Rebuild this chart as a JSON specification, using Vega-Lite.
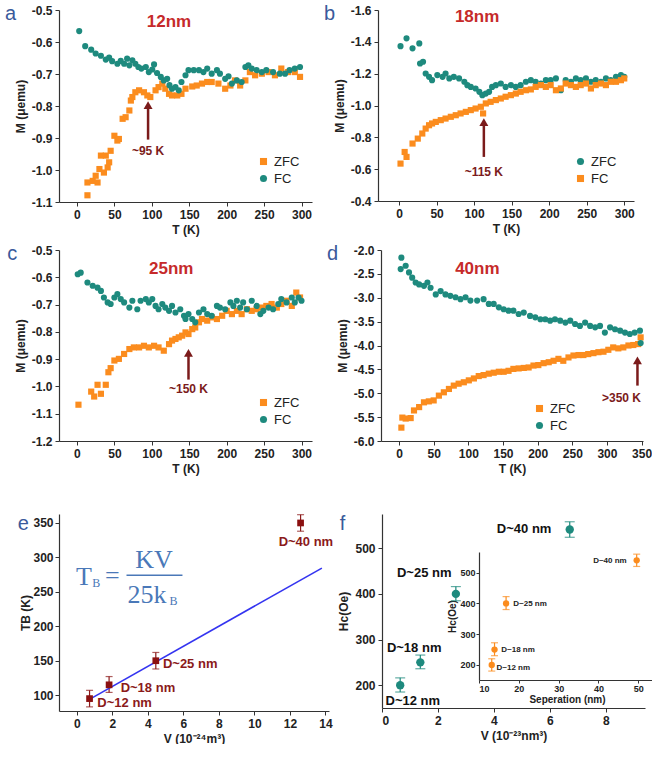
{
"$schema": "https://vega.github.io/schema/vega-lite/v6.json",
"background": "white",
"padding": {"left": 5, "top": 4, "right": 0, "bottom": 0},
"config": {
 "font": "Liberation Sans",
 "view": {"stroke": null},
 "axis": {"grid": false, "labelOverlap": false, "tickCount": 30, "domainColor": "#333", "domainWidth": 1.2, "tickColor": "#333", "tickSize": 4, "labelFont": "Liberation Sans", "labelFontSize": 12, "labelFontWeight": "bold", "labelColor": "#222", "titleFont": "Liberation Sans", "titleFontSize": 12, "titleFontWeight": "bold", "titleColor": "#222", "labelPadding": 3, "titlePadding": 4},
 "legend": {"orient": "none", "labelFontSize": 13, "labelFont": "Liberation Sans", "labelColor": "#222", "symbolSize": 50, "rowPadding": 3},
 "title": {"orient": "left", "anchor": "end", "angle": 0, "baseline": "top", "fontSize": 20, "fontWeight": "normal", "color": "#3a5a9b", "offset": -13, "font": "Liberation Sans"}
},
"datasets": {
 "a": [
  {"T":14,"M":-1.079,"s":"ZFC"},{"T":14,"M":-1.039,"s":"ZFC"},{"T":21,"M":-1.034,"s":"ZFC"},{"T":25,"M":-1.018,"s":"ZFC"},{"T":27.5,"M":-1.039,"s":"ZFC"},{"T":30,"M":-0.997,"s":"ZFC"},{"T":32,"M":-0.955,"s":"ZFC"},{"T":36,"M":-1.008,"s":"ZFC"},{"T":38.5,"M":-0.955,"s":"ZFC"},{"T":41,"M":-0.992,"s":"ZFC"},{"T":43,"M":-0.976,"s":"ZFC"},{"T":45,"M":-0.94,"s":"ZFC"},{"T":50,"M":-0.893,"s":"ZFC"},{"T":54,"M":-0.908,"s":"ZFC"},{"T":56,"M":-0.903,"s":"ZFC"},{"T":61,"M":-0.84,"s":"ZFC"},{"T":65,"M":-0.835,"s":"ZFC"},{"T":70,"M":-0.814,"s":"ZFC"},{"T":72,"M":-0.783,"s":"ZFC"},{"T":74,"M":-0.772,"s":"ZFC"},{"T":78,"M":-0.757,"s":"ZFC"},{"T":83,"M":-0.751,"s":"ZFC"},{"T":89.5,"M":-0.757,"s":"ZFC"},{"T":94,"M":-0.767,"s":"ZFC"},{"T":98,"M":-0.772,"s":"ZFC"},{"T":105,"M":-0.751,"s":"ZFC"},{"T":109,"M":-0.741,"s":"ZFC"},{"T":114,"M":-0.73,"s":"ZFC"},{"T":118,"M":-0.746,"s":"ZFC"},{"T":123,"M":-0.762,"s":"ZFC"},{"T":127,"M":-0.767,"s":"ZFC"},{"T":134,"M":-0.767,"s":"ZFC"},{"T":139.6,"M":-0.762,"s":"ZFC"},{"T":145,"M":-0.746,"s":"ZFC"},{"T":154,"M":-0.739,"s":"ZFC"},{"T":160,"M":-0.736,"s":"ZFC"},{"T":167,"M":-0.73,"s":"ZFC"},{"T":174,"M":-0.725,"s":"ZFC"},{"T":180,"M":-0.725,"s":"ZFC"},{"T":189,"M":-0.73,"s":"ZFC"},{"T":198,"M":-0.746,"s":"ZFC"},{"T":205,"M":-0.736,"s":"ZFC"},{"T":211,"M":-0.72,"s":"ZFC"},{"T":218,"M":-0.736,"s":"ZFC"},{"T":225,"M":-0.72,"s":"ZFC"},{"T":231,"M":-0.694,"s":"ZFC"},{"T":238,"M":-0.704,"s":"ZFC"},{"T":247,"M":-0.699,"s":"ZFC"},{"T":256,"M":-0.694,"s":"ZFC"},{"T":264.5,"M":-0.704,"s":"ZFC"},{"T":273,"M":-0.683,"s":"ZFC"},{"T":282,"M":-0.694,"s":"ZFC"},{"T":291,"M":-0.694,"s":"ZFC"},{"T":298,"M":-0.709,"s":"ZFC"},
  {"T":3,"M":-0.566,"s":"FC"},{"T":11,"M":-0.613,"s":"FC"},{"T":19,"M":-0.624,"s":"FC"},{"T":25,"M":-0.636,"s":"FC"},{"T":32,"M":-0.643,"s":"FC"},{"T":38.5,"M":-0.655,"s":"FC"},{"T":43,"M":-0.649,"s":"FC"},{"T":47,"M":-0.66,"s":"FC"},{"T":54,"M":-0.668,"s":"FC"},{"T":58.5,"M":-0.659,"s":"FC"},{"T":63,"M":-0.668,"s":"FC"},{"T":67,"M":-0.652,"s":"FC"},{"T":70,"M":-0.673,"s":"FC"},{"T":74,"M":-0.657,"s":"FC"},{"T":78,"M":-0.668,"s":"FC"},{"T":82,"M":-0.678,"s":"FC"},{"T":86,"M":-0.683,"s":"FC"},{"T":92,"M":-0.678,"s":"FC"},{"T":96,"M":-0.694,"s":"FC"},{"T":100.6,"M":-0.686,"s":"FC"},{"T":103,"M":-0.67,"s":"FC"},{"T":107,"M":-0.697,"s":"FC"},{"T":112,"M":-0.709,"s":"FC"},{"T":116,"M":-0.72,"s":"FC"},{"T":120.5,"M":-0.715,"s":"FC"},{"T":123.6,"M":-0.735,"s":"FC"},{"T":127,"M":-0.746,"s":"FC"},{"T":131.6,"M":-0.741,"s":"FC"},{"T":136,"M":-0.751,"s":"FC"},{"T":139.6,"M":-0.725,"s":"FC"},{"T":145,"M":-0.704,"s":"FC"},{"T":149,"M":-0.688,"s":"FC"},{"T":156,"M":-0.688,"s":"FC"},{"T":163,"M":-0.688,"s":"FC"},{"T":169,"M":-0.694,"s":"FC"},{"T":174,"M":-0.683,"s":"FC"},{"T":180,"M":-0.699,"s":"FC"},{"T":187,"M":-0.688,"s":"FC"},{"T":191,"M":-0.699,"s":"FC"},{"T":198,"M":-0.715,"s":"FC"},{"T":202.5,"M":-0.707,"s":"FC"},{"T":207,"M":-0.73,"s":"FC"},{"T":213.6,"M":-0.72,"s":"FC"},{"T":220,"M":-0.725,"s":"FC"},{"T":225,"M":-0.678,"s":"FC"},{"T":229,"M":-0.673,"s":"FC"},{"T":233.5,"M":-0.683,"s":"FC"},{"T":240,"M":-0.688,"s":"FC"},{"T":247,"M":-0.694,"s":"FC"},{"T":253,"M":-0.688,"s":"FC"},{"T":262,"M":-0.694,"s":"FC"},{"T":271,"M":-0.699,"s":"FC"},{"T":278,"M":-0.699,"s":"FC"},{"T":284,"M":-0.688,"s":"FC"},{"T":291,"M":-0.683,"s":"FC"},{"T":298,"M":-0.678,"s":"FC"}
 ],
 "b": [
  {"T":2,"M":-1.373,"s":"ZFC"},{"T":10,"M":-1.422,"s":"ZFC"},{"T":18,"M":-1.359,"s":"ZFC"},{"T":27,"M":-1.39,"s":"ZFC"},{"T":28,"M":-1.264,"s":"ZFC"},{"T":32,"M":-1.275,"s":"ZFC"},{"T":35.5,"M":-1.201,"s":"ZFC"},{"T":40,"M":-1.18,"s":"ZFC"},{"T":44,"M":-1.159,"s":"ZFC"},{"T":51,"M":-1.191,"s":"ZFC"},{"T":58,"M":-1.18,"s":"ZFC"},{"T":62,"M":-1.201,"s":"ZFC"},{"T":67,"M":-1.17,"s":"ZFC"},{"T":73,"M":-1.18,"s":"ZFC"},{"T":80,"M":-1.17,"s":"ZFC"},{"T":87,"M":-1.149,"s":"ZFC"},{"T":91,"M":-1.128,"s":"ZFC"},{"T":95.6,"M":-1.117,"s":"ZFC"},{"T":102,"M":-1.107,"s":"ZFC"},{"T":107,"M":-1.086,"s":"ZFC"},{"T":111,"M":-1.065,"s":"ZFC"},{"T":115.6,"M":-1.075,"s":"ZFC"},{"T":120,"M":-1.086,"s":"ZFC"},{"T":124,"M":-1.117,"s":"ZFC"},{"T":129,"M":-1.128,"s":"ZFC"},{"T":135.6,"M":-1.138,"s":"ZFC"},{"T":142,"M":-1.117,"s":"ZFC"},{"T":149,"M":-1.128,"s":"ZFC"},{"T":155.6,"M":-1.117,"s":"ZFC"},{"T":162,"M":-1.128,"s":"ZFC"},{"T":169,"M":-1.149,"s":"ZFC"},{"T":175.6,"M":-1.159,"s":"ZFC"},{"T":182,"M":-1.149,"s":"ZFC"},{"T":189,"M":-1.138,"s":"ZFC"},{"T":195.6,"M":-1.159,"s":"ZFC"},{"T":202,"M":-1.159,"s":"ZFC"},{"T":209,"M":-1.17,"s":"ZFC"},{"T":215.6,"M":-1.096,"s":"ZFC"},{"T":222,"M":-1.159,"s":"ZFC"},{"T":229,"M":-1.149,"s":"ZFC"},{"T":235.6,"M":-1.17,"s":"ZFC"},{"T":242,"M":-1.159,"s":"ZFC"},{"T":249,"M":-1.17,"s":"ZFC"},{"T":255.6,"M":-1.149,"s":"ZFC"},{"T":262,"M":-1.159,"s":"ZFC"},{"T":269,"M":-1.149,"s":"ZFC"},{"T":275.6,"M":-1.17,"s":"ZFC"},{"T":282,"M":-1.159,"s":"ZFC"},{"T":289,"M":-1.18,"s":"ZFC"},{"T":295.6,"M":-1.191,"s":"ZFC"},{"T":300,"M":-1.18,"s":"ZFC"},
  {"T":2,"M":-0.635,"s":"FC"},{"T":7.5,"M":-0.708,"s":"FC"},{"T":10,"M":-0.677,"s":"FC"},{"T":18,"M":-0.761,"s":"FC"},{"T":25,"M":-0.792,"s":"FC"},{"T":31,"M":-0.824,"s":"FC"},{"T":35.5,"M":-0.855,"s":"FC"},{"T":40,"M":-0.876,"s":"FC"},{"T":44,"M":-0.887,"s":"FC"},{"T":49,"M":-0.897,"s":"FC"},{"T":55.6,"M":-0.908,"s":"FC"},{"T":62,"M":-0.918,"s":"FC"},{"T":69,"M":-0.929,"s":"FC"},{"T":75.6,"M":-0.939,"s":"FC"},{"T":82,"M":-0.95,"s":"FC"},{"T":89,"M":-0.96,"s":"FC"},{"T":95.6,"M":-0.971,"s":"FC"},{"T":102,"M":-0.981,"s":"FC"},{"T":109,"M":-0.992,"s":"FC"},{"T":112,"M":-0.95,"s":"FC"},{"T":115.6,"M":-1.013,"s":"FC"},{"T":122,"M":-1.023,"s":"FC"},{"T":129,"M":-1.034,"s":"FC"},{"T":135.6,"M":-1.044,"s":"FC"},{"T":142,"M":-1.055,"s":"FC"},{"T":149,"M":-1.065,"s":"FC"},{"T":155.6,"M":-1.075,"s":"FC"},{"T":162,"M":-1.086,"s":"FC"},{"T":169,"M":-1.096,"s":"FC"},{"T":175.6,"M":-1.101,"s":"FC"},{"T":182,"M":-1.117,"s":"FC"},{"T":189,"M":-1.128,"s":"FC"},{"T":195.6,"M":-1.117,"s":"FC"},{"T":202,"M":-1.128,"s":"FC"},{"T":209,"M":-1.096,"s":"FC"},{"T":215.6,"M":-1.107,"s":"FC"},{"T":222,"M":-1.138,"s":"FC"},{"T":229,"M":-1.128,"s":"FC"},{"T":235.6,"M":-1.117,"s":"FC"},{"T":242,"M":-1.128,"s":"FC"},{"T":249,"M":-1.138,"s":"FC"},{"T":255.6,"M":-1.107,"s":"FC"},{"T":262,"M":-1.128,"s":"FC"},{"T":269,"M":-1.138,"s":"FC"},{"T":275.6,"M":-1.128,"s":"FC"},{"T":282,"M":-1.149,"s":"FC"},{"T":289,"M":-1.149,"s":"FC"},{"T":295.6,"M":-1.159,"s":"FC"},{"T":300,"M":-1.17,"s":"FC"}
 ],
 "c": [
  {"T":2,"M":-1.067,"s":"ZFC"},{"T":19,"M":-1.019,"s":"ZFC"},{"T":23,"M":-1.037,"s":"ZFC"},{"T":27.5,"M":-0.994,"s":"ZFC"},{"T":32,"M":-1.027,"s":"ZFC"},{"T":38.5,"M":-0.994,"s":"ZFC"},{"T":42,"M":-0.948,"s":"ZFC"},{"T":45,"M":-0.933,"s":"ZFC"},{"T":50,"M":-0.905,"s":"ZFC"},{"T":56,"M":-0.899,"s":"ZFC"},{"T":63,"M":-0.881,"s":"ZFC"},{"T":70,"M":-0.863,"s":"ZFC"},{"T":76,"M":-0.857,"s":"ZFC"},{"T":83,"M":-0.857,"s":"ZFC"},{"T":89.5,"M":-0.851,"s":"ZFC"},{"T":96,"M":-0.857,"s":"ZFC"},{"T":103,"M":-0.851,"s":"ZFC"},{"T":109,"M":-0.857,"s":"ZFC"},{"T":116,"M":-0.869,"s":"ZFC"},{"T":123,"M":-0.845,"s":"ZFC"},{"T":127,"M":-0.832,"s":"ZFC"},{"T":131.6,"M":-0.826,"s":"ZFC"},{"T":136,"M":-0.82,"s":"ZFC"},{"T":140.5,"M":-0.814,"s":"ZFC"},{"T":145,"M":-0.802,"s":"ZFC"},{"T":149,"M":-0.808,"s":"ZFC"},{"T":154,"M":-0.79,"s":"ZFC"},{"T":158,"M":-0.784,"s":"ZFC"},{"T":163,"M":-0.765,"s":"ZFC"},{"T":167,"M":-0.753,"s":"ZFC"},{"T":174,"M":-0.759,"s":"ZFC"},{"T":180,"M":-0.747,"s":"ZFC"},{"T":187,"M":-0.753,"s":"ZFC"},{"T":194,"M":-0.741,"s":"ZFC"},{"T":200,"M":-0.723,"s":"ZFC"},{"T":207,"M":-0.735,"s":"ZFC"},{"T":213.6,"M":-0.723,"s":"ZFC"},{"T":220,"M":-0.735,"s":"ZFC"},{"T":227,"M":-0.717,"s":"ZFC"},{"T":233.5,"M":-0.723,"s":"ZFC"},{"T":240,"M":-0.717,"s":"ZFC"},{"T":247,"M":-0.711,"s":"ZFC"},{"T":253,"M":-0.705,"s":"ZFC"},{"T":260,"M":-0.698,"s":"ZFC"},{"T":267,"M":-0.711,"s":"ZFC"},{"T":273,"M":-0.698,"s":"ZFC"},{"T":280,"M":-0.686,"s":"ZFC"},{"T":287,"M":-0.705,"s":"ZFC"},{"T":293,"M":-0.656,"s":"ZFC"},{"T":298,"M":-0.674,"s":"ZFC"},
  {"T":1,"M":-0.589,"s":"FC"},{"T":5,"M":-0.583,"s":"FC"},{"T":14,"M":-0.619,"s":"FC"},{"T":21,"M":-0.631,"s":"FC"},{"T":27.5,"M":-0.638,"s":"FC"},{"T":32,"M":-0.65,"s":"FC"},{"T":36,"M":-0.674,"s":"FC"},{"T":41,"M":-0.692,"s":"FC"},{"T":45,"M":-0.698,"s":"FC"},{"T":50,"M":-0.674,"s":"FC"},{"T":54,"M":-0.662,"s":"FC"},{"T":58.5,"M":-0.68,"s":"FC"},{"T":63,"M":-0.692,"s":"FC"},{"T":70,"M":-0.711,"s":"FC"},{"T":74,"M":-0.686,"s":"FC"},{"T":80.6,"M":-0.717,"s":"FC"},{"T":85,"M":-0.686,"s":"FC"},{"T":92,"M":-0.68,"s":"FC"},{"T":96,"M":-0.692,"s":"FC"},{"T":100.6,"M":-0.68,"s":"FC"},{"T":105,"M":-0.705,"s":"FC"},{"T":109,"M":-0.717,"s":"FC"},{"T":114,"M":-0.698,"s":"FC"},{"T":118,"M":-0.711,"s":"FC"},{"T":123,"M":-0.723,"s":"FC"},{"T":127,"M":-0.705,"s":"FC"},{"T":131.6,"M":-0.729,"s":"FC"},{"T":138,"M":-0.717,"s":"FC"},{"T":143,"M":-0.741,"s":"FC"},{"T":145,"M":-0.753,"s":"FC"},{"T":149,"M":-0.735,"s":"FC"},{"T":154,"M":-0.753,"s":"FC"},{"T":158,"M":-0.765,"s":"FC"},{"T":163,"M":-0.729,"s":"FC"},{"T":169,"M":-0.717,"s":"FC"},{"T":174,"M":-0.735,"s":"FC"},{"T":180,"M":-0.741,"s":"FC"},{"T":187,"M":-0.705,"s":"FC"},{"T":191,"M":-0.711,"s":"FC"},{"T":198,"M":-0.717,"s":"FC"},{"T":205,"M":-0.692,"s":"FC"},{"T":209,"M":-0.705,"s":"FC"},{"T":213.6,"M":-0.686,"s":"FC"},{"T":218,"M":-0.711,"s":"FC"},{"T":222,"M":-0.692,"s":"FC"},{"T":227,"M":-0.717,"s":"FC"},{"T":233.5,"M":-0.686,"s":"FC"},{"T":240,"M":-0.705,"s":"FC"},{"T":245,"M":-0.735,"s":"FC"},{"T":249,"M":-0.723,"s":"FC"},{"T":256,"M":-0.711,"s":"FC"},{"T":262,"M":-0.717,"s":"FC"},{"T":269,"M":-0.698,"s":"FC"},{"T":273,"M":-0.68,"s":"FC"},{"T":280,"M":-0.692,"s":"FC"},{"T":287,"M":-0.674,"s":"FC"},{"T":291,"M":-0.692,"s":"FC"},{"T":296,"M":-0.674,"s":"FC"},{"T":300,"M":-0.686,"s":"FC"}
 ],
 "d": [
  {"T":3.4,"M":-5.72,"s":"ZFC"},{"T":4.8,"M":-5.51,"s":"ZFC"},{"T":9.6,"M":-5.53,"s":"ZFC"},{"T":16.8,"M":-5.52,"s":"ZFC"},{"T":21.6,"M":-5.36,"s":"ZFC"},{"T":29,"M":-5.29,"s":"ZFC"},{"T":36,"M":-5.19,"s":"ZFC"},{"T":43,"M":-5.17,"s":"ZFC"},{"T":50,"M":-5.15,"s":"ZFC"},{"T":57.5,"M":-5.05,"s":"ZFC"},{"T":64.7,"M":-4.98,"s":"ZFC"},{"T":72,"M":-4.91,"s":"ZFC"},{"T":79,"M":-4.84,"s":"ZFC"},{"T":86,"M":-4.8,"s":"ZFC"},{"T":93.5,"M":-4.77,"s":"ZFC"},{"T":100.7,"M":-4.73,"s":"ZFC"},{"T":108,"M":-4.69,"s":"ZFC"},{"T":115,"M":-4.64,"s":"ZFC"},{"T":122,"M":-4.62,"s":"ZFC"},{"T":129.5,"M":-4.59,"s":"ZFC"},{"T":136.6,"M":-4.57,"s":"ZFC"},{"T":144,"M":-4.55,"s":"ZFC"},{"T":151,"M":-4.55,"s":"ZFC"},{"T":158,"M":-4.53,"s":"ZFC"},{"T":165,"M":-4.49,"s":"ZFC"},{"T":172.6,"M":-4.48,"s":"ZFC"},{"T":180,"M":-4.47,"s":"ZFC"},{"T":187,"M":-4.46,"s":"ZFC"},{"T":194,"M":-4.42,"s":"ZFC"},{"T":201,"M":-4.41,"s":"ZFC"},{"T":208.6,"M":-4.37,"s":"ZFC"},{"T":216,"M":-4.35,"s":"ZFC"},{"T":223,"M":-4.32,"s":"ZFC"},{"T":230,"M":-4.28,"s":"ZFC"},{"T":237,"M":-4.32,"s":"ZFC"},{"T":244.5,"M":-4.25,"s":"ZFC"},{"T":251.7,"M":-4.21,"s":"ZFC"},{"T":259,"M":-4.2,"s":"ZFC"},{"T":266,"M":-4.2,"s":"ZFC"},{"T":273,"M":-4.18,"s":"ZFC"},{"T":280.5,"M":-4.16,"s":"ZFC"},{"T":287.7,"M":-4.14,"s":"ZFC"},{"T":295,"M":-4.13,"s":"ZFC"},{"T":302,"M":-4.09,"s":"ZFC"},{"T":309,"M":-4.04,"s":"ZFC"},{"T":316.4,"M":-4.06,"s":"ZFC"},{"T":323.6,"M":-4.04,"s":"ZFC"},{"T":331,"M":-4.0,"s":"ZFC"},{"T":338,"M":-3.99,"s":"ZFC"},{"T":345,"M":-3.97,"s":"ZFC"},{"T":348.6,"M":-3.83,"s":"ZFC"},
  {"T":3.4,"M":-2.16,"s":"FC"},{"T":2.4,"M":-2.4,"s":"FC"},{"T":9.6,"M":-2.33,"s":"FC"},{"T":14.4,"M":-2.47,"s":"FC"},{"T":19,"M":-2.58,"s":"FC"},{"T":24,"M":-2.68,"s":"FC"},{"T":29,"M":-2.72,"s":"FC"},{"T":36,"M":-2.75,"s":"FC"},{"T":41,"M":-2.68,"s":"FC"},{"T":45.5,"M":-2.79,"s":"FC"},{"T":53,"M":-2.93,"s":"FC"},{"T":60,"M":-2.86,"s":"FC"},{"T":67,"M":-2.93,"s":"FC"},{"T":74,"M":-2.96,"s":"FC"},{"T":81.5,"M":-2.99,"s":"FC"},{"T":88.7,"M":-3.03,"s":"FC"},{"T":96,"M":-2.99,"s":"FC"},{"T":103,"M":-3.06,"s":"FC"},{"T":112.7,"M":-3.06,"s":"FC"},{"T":122,"M":-3.03,"s":"FC"},{"T":129.5,"M":-3.13,"s":"FC"},{"T":136.6,"M":-3.13,"s":"FC"},{"T":144,"M":-3.2,"s":"FC"},{"T":151,"M":-3.24,"s":"FC"},{"T":158,"M":-3.27,"s":"FC"},{"T":165,"M":-3.27,"s":"FC"},{"T":172.6,"M":-3.34,"s":"FC"},{"T":180,"M":-3.31,"s":"FC"},{"T":189,"M":-3.38,"s":"FC"},{"T":196.6,"M":-3.41,"s":"FC"},{"T":204,"M":-3.45,"s":"FC"},{"T":211,"M":-3.45,"s":"FC"},{"T":218,"M":-3.48,"s":"FC"},{"T":225,"M":-3.45,"s":"FC"},{"T":232.5,"M":-3.48,"s":"FC"},{"T":240,"M":-3.52,"s":"FC"},{"T":247,"M":-3.48,"s":"FC"},{"T":254,"M":-3.55,"s":"FC"},{"T":261,"M":-3.59,"s":"FC"},{"T":268.5,"M":-3.52,"s":"FC"},{"T":275.7,"M":-3.59,"s":"FC"},{"T":283,"M":-3.62,"s":"FC"},{"T":290,"M":-3.59,"s":"FC"},{"T":297,"M":-3.73,"s":"FC"},{"T":304.5,"M":-3.62,"s":"FC"},{"T":311.6,"M":-3.66,"s":"FC"},{"T":319,"M":-3.69,"s":"FC"},{"T":326,"M":-3.73,"s":"FC"},{"T":333,"M":-3.76,"s":"FC"},{"T":340,"M":-3.73,"s":"FC"},{"T":347.6,"M":-3.69,"s":"FC"},{"T":348.6,"M":-3.95,"s":"FC"}
 ],
 "e": [
  {"V":0.72,"TB":95,"lo":83,"hi":107},{"V":1.82,"TB":115,"lo":104,"hi":127},{"V":4.45,"TB":150,"lo":138,"hi":162},{"V":12.6,"TB":350,"lo":338,"hi":362}
 ],
 "f": [
  {"V":0.65,"H":200,"lo":185,"hi":216},{"V":1.37,"H":250,"lo":236,"hi":266},{"V":2.64,"H":400,"lo":385,"hi":416},{"V":6.71,"H":541,"lo":524,"hi":558}
 ],
 "finset": [
  {"S":13.2,"H":200,"lo":180,"hi":220},{"S":13.9,"H":250,"lo":230,"hi":272},{"S":16.8,"H":400,"lo":380,"hi":422},{"S":49.6,"H":540,"lo":520,"hi":560}
 ]
},
"spacing": 40,
"resolve": {"scale": {"color": "independent", "shape": "independent"}, "legend": {"color": "independent", "shape": "independent"}},
"vconcat": [
 {"vconcat": [
 {"hconcat": [
  {"width": 253, "height": 192,
   "title": {"text": "a"},
   "layer": [
    {"data": {"name": "a"}, "mark": {"type": "point", "filled": true, "opacity": 1, "size": 38},
     "encoding": {
      "x": {"field": "T", "type": "quantitative", "scale": {"domain": [-24, 314], "nice": false, "zero": false}, "axis": {"values": [0,50,100,150,200,250,300], "tickCount": 30, "format": "d", "title": "T (K)"}},
      "y": {"field": "M", "type": "quantitative", "scale": {"domain": [-1.1, -0.5], "nice": false, "zero": false}, "axis": {"values": [-1.1,-1.0,-0.9,-0.8,-0.7,-0.6,-0.5], "tickCount": 30, "labelExpr": "replace(format(datum.value,'.1f'),'\u2212','-')", "title": "M (\u03bcemu)"}},
      "color": {"field": "s", "type": "nominal", "scale": {"domain": ["ZFC","FC"], "range": ["#fb8c1e","#1e8a7e"]}, "legend": {"title": null, "legendX": 198, "legendY": 145}},
      "shape": {"field": "s", "type": "nominal", "scale": {"domain": ["ZFC","FC"], "range": ["square","circle"]}, "legend": {"title": null, "legendX": 198, "legendY": 145}}
     }},
    {"data": {"values": [{}]}, "mark": {"type": "rule", "color": "#7b1b1b", "strokeWidth": 2.5}, "encoding": {"x": {"datum": 95}, "y": {"datum": -0.905}, "y2": {"datum": -0.80}}},
    {"data": {"values": [{}]}, "mark": {"type": "point", "shape": "triangle-up", "filled": true, "color": "#7b1b1b", "size": 80, "opacity": 1}, "encoding": {"x": {"datum": 95}, "y": {"datum": -0.797}}},
    {"data": {"values": [{}]}, "mark": {"type": "text", "text": "~95 K", "fontSize": 12, "fontWeight": "bold", "color": "#7b1b1b"}, "encoding": {"x": {"datum": 95}, "y": {"datum": -0.942}}},
    {"data": {"values": [{}]}, "mark": {"type": "text", "text": "12nm", "fontSize": 17, "fontWeight": "bold", "color": "#c62a2a"}, "encoding": {"x": {"datum": 123}, "y": {"datum": -0.537}}}
   ]},
  {"width": 256, "height": 191,
   "title": {"text": "b"},
   "layer": [
    {"data": {"name": "b"}, "mark": {"type": "point", "filled": true, "opacity": 1, "size": 38},
     "encoding": {
      "x": {"field": "T", "type": "quantitative", "scale": {"domain": [-28, 313], "nice": false, "zero": false}, "axis": {"values": [0,50,100,150,200,250,300], "tickCount": 30, "format": "d", "title": "T (K)"}},
      "y": {"field": "M", "type": "quantitative", "scale": {"domain": [-1.6, -0.4], "reverse": true, "nice": false, "zero": false}, "axis": {"values": [-1.6,-1.4,-1.2,-1.0,-0.8,-0.6,-0.4], "tickCount": 30, "labelExpr": "replace(format(datum.value,'.1f'),'\u2212','-')", "title": "M (\u03bcemu)"}},
      "color": {"field": "s", "type": "nominal", "scale": {"domain": ["ZFC","FC"], "range": ["#1e8a7e","#fb8c1e"]}, "legend": {"title": null, "legendX": 196, "legendY": 145}},
      "shape": {"field": "s", "type": "nominal", "scale": {"domain": ["ZFC","FC"], "range": ["circle","square"]}, "legend": {"title": null, "legendX": 196, "legendY": 145}}
     }},
    {"data": {"values": [{}]}, "mark": {"type": "rule", "color": "#7b1b1b", "strokeWidth": 2.5}, "encoding": {"x": {"datum": 113}, "y": {"datum": -0.677}, "y2": {"datum": -0.89}}},
    {"data": {"values": [{}]}, "mark": {"type": "point", "shape": "triangle-up", "filled": true, "color": "#7b1b1b", "size": 80, "opacity": 1}, "encoding": {"x": {"datum": 113}, "y": {"datum": -0.895}}},
    {"data": {"values": [{}]}, "mark": {"type": "text", "text": "~115 K", "fontSize": 12, "fontWeight": "bold", "color": "#7b1b1b"}, "encoding": {"x": {"datum": 113}, "y": {"datum": -0.583}}},
    {"data": {"values": [{}]}, "mark": {"type": "text", "text": "18nm", "fontSize": 17, "fontWeight": "bold", "color": "#c62a2a"}, "encoding": {"x": {"datum": 104}, "y": {"datum": -1.554}}}
   ]}
 ], "spacing": 12, "resolve": {"scale": {"color": "independent", "shape": "independent"}, "legend": {"color": "independent", "shape": "independent"}}},
 {"hconcat": [
  {"width": 253, "height": 191,
   "title": {"text": "c"},
   "layer": [
    {"data": {"name": "c"}, "mark": {"type": "point", "filled": true, "opacity": 1, "size": 38},
     "encoding": {
      "x": {"field": "T", "type": "quantitative", "scale": {"domain": [-24, 314], "nice": false, "zero": false}, "axis": {"values": [0,50,100,150,200,250,300], "tickCount": 30, "format": "d", "title": "T (K)"}},
      "y": {"field": "M", "type": "quantitative", "scale": {"domain": [-1.2, -0.5], "nice": false, "zero": false}, "axis": {"values": [-1.2,-1.1,-1.0,-0.9,-0.8,-0.7,-0.6,-0.5], "tickCount": 30, "labelExpr": "replace(format(datum.value,'.1f'),'\u2212','-')", "title": "M (\u03bcemu)"}},
      "color": {"field": "s", "type": "nominal", "scale": {"domain": ["ZFC","FC"], "range": ["#fb8c1e","#1e8a7e"]}, "legend": {"title": null, "legendX": 198, "legendY": 146}},
      "shape": {"field": "s", "type": "nominal", "scale": {"domain": ["ZFC","FC"], "range": ["square","circle"]}, "legend": {"title": null, "legendX": 198, "legendY": 146}}
     }},
    {"data": {"values": [{}]}, "mark": {"type": "rule", "color": "#7b1b1b", "strokeWidth": 2.5}, "encoding": {"x": {"datum": 149}, "y": {"datum": -0.975}, "y2": {"datum": -0.88}}},
    {"data": {"values": [{}]}, "mark": {"type": "point", "shape": "triangle-up", "filled": true, "color": "#7b1b1b", "size": 80, "opacity": 1}, "encoding": {"x": {"datum": 149}, "y": {"datum": -0.877}}},
    {"data": {"values": [{}]}, "mark": {"type": "text", "text": "~150 K", "fontSize": 12, "fontWeight": "bold", "color": "#7b1b1b"}, "encoding": {"x": {"datum": 149}, "y": {"datum": -1.01}}},
    {"data": {"values": [{}]}, "mark": {"type": "text", "text": "25nm", "fontSize": 17, "fontWeight": "bold", "color": "#c62a2a"}, "encoding": {"x": {"datum": 126}, "y": {"datum": -0.571}}}
   ]},
  {"width": 262, "height": 191,
   "title": {"text": "d"},
   "layer": [
    {"data": {"name": "d"}, "mark": {"type": "point", "filled": true, "opacity": 1, "size": 38},
     "encoding": {
      "x": {"field": "T", "type": "quantitative", "scale": {"domain": [-26, 352], "nice": false, "zero": false}, "axis": {"values": [0,50,100,150,200,250,300,350], "tickCount": 30, "format": "d", "title": "T (K)"}},
      "y": {"field": "M", "type": "quantitative", "scale": {"domain": [-6, -2], "nice": false, "zero": false}, "axis": {"values": [-6,-5.5,-5,-4.5,-4,-3.5,-3,-2.5,-2], "tickCount": 30, "labelExpr": "replace(format(datum.value,'.1f'),'\u2212','-')", "title": "M (\u03bcemu)"}},
      "color": {"field": "s", "type": "nominal", "scale": {"domain": ["ZFC","FC"], "range": ["#fb8c1e","#1e8a7e"]}, "legend": {"title": null, "legendX": 152, "legendY": 152}},
      "shape": {"field": "s", "type": "nominal", "scale": {"domain": ["ZFC","FC"], "range": ["square","circle"]}, "legend": {"title": null, "legendX": 152, "legendY": 152}}
     }},
    {"data": {"values": [{}]}, "mark": {"type": "rule", "color": "#7b1b1b", "strokeWidth": 2.5}, "encoding": {"x": {"datum": 344}, "y": {"datum": -4.84}, "y2": {"datum": -4.33}}},
    {"data": {"values": [{}]}, "mark": {"type": "point", "shape": "triangle-up", "filled": true, "color": "#7b1b1b", "size": 80, "opacity": 1}, "encoding": {"x": {"datum": 344}, "y": {"datum": -4.31}}},
    {"data": {"values": [{}]}, "mark": {"type": "text", "text": ">350 K", "fontSize": 12, "fontWeight": "bold", "color": "#7b1b1b"}, "encoding": {"x": {"datum": 321}, "y": {"datum": -5.1}}},
    {"data": {"values": [{}]}, "mark": {"type": "text", "text": "40nm", "fontSize": 17, "fontWeight": "bold", "color": "#c62a2a"}, "encoding": {"x": {"datum": 113}, "y": {"datum": -2.4}}}
   ]}
 ], "spacing": 15, "resolve": {"scale": {"color": "independent", "shape": "independent"}, "legend": {"color": "independent", "shape": "independent"}}}
 ], "spacing": 9, "resolve": {"scale": {"color": "independent", "shape": "independent"}, "legend": {"color": "independent", "shape": "independent"}}},
 {"hconcat": [
  {"width": 270, "height": 197,
   "title": {"text": "e", "offset": -20},
   "layer": [
    {"data": {"name": "e"}, "mark": {"type": "rule", "color": "#8b1a1a", "strokeWidth": 1.2},
     "encoding": {
      "x": {"field": "V", "type": "quantitative", "scale": {"domain": [-1, 14.2], "nice": false, "zero": false}, "axis": {"values": [0,2,4,6,8,10,12,14], "tickCount": 30, "format": "d", "title": "V (10\u207b\u00b2\u2074m\u00b3)"}},
      "y": {"field": "lo", "type": "quantitative", "scale": {"domain": [77, 363], "nice": false, "zero": false}, "axis": {"values": [100,150,200,250,300,350], "tickCount": 30, "format": "d", "title": "TB (K)", "titlePadding": 0, "labelPadding": 2}},
      "y2": {"field": "hi"}
     }},
    {"data": {"name": "e"}, "mark": {"type": "tick", "orient": "horizontal", "color": "#8b1a1a", "size": 7, "thickness": 1.2}, "encoding": {"x": {"field": "V", "type": "quantitative"}, "y": {"field": "lo", "type": "quantitative"}}},
    {"data": {"name": "e"}, "mark": {"type": "tick", "orient": "horizontal", "color": "#8b1a1a", "size": 7, "thickness": 1.2}, "encoding": {"x": {"field": "V", "type": "quantitative"}, "y": {"field": "hi", "type": "quantitative"}}},
    {"data": {"values": [{}]}, "mark": {"type": "rule", "color": "#3434f0", "strokeWidth": 1.6}, "encoding": {"x": {"datum": 0.79}, "y": {"datum": 95}, "x2": {"datum": 13.8}, "y2": {"datum": 284.5}}},
    {"data": {"name": "e"}, "mark": {"type": "point", "shape": "square", "filled": true, "opacity": 1, "color": "#8b1010", "size": 45}, "encoding": {"x": {"field": "V", "type": "quantitative"}, "y": {"field": "TB", "type": "quantitative"}}},
    {"data": {"values": [{}]}, "mark": {"type": "text", "text": "D~40 nm", "fontSize": 13, "fontWeight": "bold", "color": "#8b1a1a"}, "encoding": {"x": {"datum": 12.9}, "y": {"datum": 322}}},
    {"data": {"values": [{}]}, "mark": {"type": "text", "text": "D~25 nm", "align": "left", "fontSize": 13, "fontWeight": "bold", "color": "#8b1a1a"}, "encoding": {"x": {"datum": 4.85}, "y": {"datum": 145.6}}},
    {"data": {"values": [{}]}, "mark": {"type": "text", "text": "D~18 nm", "align": "left", "fontSize": 13, "fontWeight": "bold", "color": "#8b1a1a"}, "encoding": {"x": {"datum": 2.47}, "y": {"datum": 109.7}}},
    {"data": {"values": [{}]}, "mark": {"type": "text", "text": "D~12 nm", "align": "left", "fontSize": 13, "fontWeight": "bold", "color": "#8b1a1a"}, "encoding": {"x": {"datum": 1.16}, "y": {"datum": 88.8}}},
    {"data": {"values": [{}]}, "mark": {"type": "text", "text": "T", "font": "Liberation Serif", "fontSize": 26, "color": "#4a78b8"}, "encoding": {"x": {"datum": 0.4}, "y": {"datum": 272}}},
    {"data": {"values": [{}]}, "mark": {"type": "text", "text": "B", "font": "Liberation Serif", "fontSize": 12, "color": "#4a78b8"}, "encoding": {"x": {"datum": 1.1}, "y": {"datum": 263}}},
    {"data": {"values": [{}]}, "mark": {"type": "text", "text": "=", "font": "Liberation Serif", "fontSize": 26, "color": "#4a78b8"}, "encoding": {"x": {"datum": 2.0}, "y": {"datum": 273}}},
    {"data": {"values": [{}]}, "mark": {"type": "text", "text": "KV", "font": "Liberation Serif", "fontSize": 26, "color": "#4a78b8"}, "encoding": {"x": {"datum": 4.35}, "y": {"datum": 296}}},
    {"data": {"values": [{}]}, "mark": {"type": "rule", "color": "#4a78b8", "strokeWidth": 1.5}, "encoding": {"x": {"datum": 2.8}, "x2": {"datum": 5.95}, "y": {"datum": 274}}},
    {"data": {"values": [{}]}, "mark": {"type": "text", "text": "25k", "font": "Liberation Serif", "fontSize": 26, "color": "#4a78b8"}, "encoding": {"x": {"datum": 3.95}, "y": {"datum": 246}}},
    {"data": {"values": [{}]}, "mark": {"type": "text", "text": "B", "font": "Liberation Serif", "fontSize": 12, "color": "#4a78b8"}, "encoding": {"x": {"datum": 5.45}, "y": {"datum": 237}}}
   ]},
  {"width": 263, "height": 194,
   "title": {"text": "f"},
   "resolve": {"scale": {"x": "independent", "y": "independent"}},
   "layer": [
    {"layer": [
     {"data": {"name": "f"}, "mark": {"type": "rule", "color": "#1e8a7e", "strokeWidth": 1.2},
      "encoding": {
       "x": {"field": "V", "type": "quantitative", "scale": {"domain": [0, 9.4], "nice": false, "zero": false}, "axis": {"values": [0,2,4,6,8], "tickCount": 30, "format": "d", "title": "V (10\u207b\u00b2\u00b3nm\u00b3)"}},
       "y": {"field": "lo", "type": "quantitative", "scale": {"domain": [150, 575], "nice": false, "zero": false}, "axis": {"values": [200,300,400,500], "tickCount": 30, "format": "d", "title": "Hc(Oe)"}},
       "y2": {"field": "hi"}
      }},
     {"data": {"name": "f"}, "mark": {"type": "tick", "orient": "horizontal", "color": "#1e8a7e", "size": 10, "thickness": 1.2}, "encoding": {"x": {"field": "V", "type": "quantitative"}, "y": {"field": "lo", "type": "quantitative"}}},
     {"data": {"name": "f"}, "mark": {"type": "tick", "orient": "horizontal", "color": "#1e8a7e", "size": 10, "thickness": 1.2}, "encoding": {"x": {"field": "V", "type": "quantitative"}, "y": {"field": "hi", "type": "quantitative"}}},
     {"data": {"name": "f"}, "mark": {"type": "point", "shape": "circle", "filled": true, "opacity": 1, "color": "#1e8a7e", "size": 70}, "encoding": {"x": {"field": "V", "type": "quantitative"}, "y": {"field": "H", "type": "quantitative"}}},
     {"data": {"values": [{}]}, "mark": {"type": "text", "text": "D~40 nm", "fontSize": 13, "fontWeight": "bold", "color": "#111"}, "encoding": {"x": {"datum": 5.08}, "y": {"datum": 541.6}}},
     {"data": {"values": [{}]}, "mark": {"type": "text", "text": "D~25 nm", "fontSize": 13, "fontWeight": "bold", "color": "#111"}, "encoding": {"x": {"datum": 1.51}, "y": {"datum": 445}}},
     {"data": {"values": [{}]}, "mark": {"type": "text", "text": "D~18 nm", "fontSize": 13, "fontWeight": "bold", "color": "#111"}, "encoding": {"x": {"datum": 1.15}, "y": {"datum": 281}}},
     {"data": {"values": [{}]}, "mark": {"type": "text", "text": "D~12 nm", "fontSize": 13, "fontWeight": "bold", "color": "#111"}, "encoding": {"x": {"datum": 1.1}, "y": {"datum": 165.7}}}
    ]},
    {"layer": [
     {"data": {"name": "finset"}, "mark": {"type": "rule", "color": "#fb8c1e", "strokeWidth": 1.2},
      "encoding": {
       "x": {"field": "S", "type": "quantitative", "scale": {"domain": [10, 54.2], "range": [97, 273], "nice": false, "zero": false}, "axis": {"orient": "bottom", "offset": -28, "values": [10,20,30,40,50], "tickCount": 30, "format": "d", "title": "Seperation (nm)", "labelFontSize": 9, "titleFontSize": 10, "tickSize": 3, "labelPadding": 1, "titlePadding": 1}},
       "y": {"field": "lo", "type": "quantitative", "scale": {"domain": [151, 567], "range": [166, 38], "nice": false, "zero": false}, "axis": {"orient": "left", "offset": -97, "values": [200,300,400,500], "tickCount": 30, "format": "d", "title": "Hc(Oe)", "labelFontSize": 9, "titleFontSize": 10, "tickSize": 3, "labelPadding": 1, "titlePadding": 2}},
       "y2": {"field": "hi"}
      }},
     {"data": {"name": "finset"}, "mark": {"type": "tick", "orient": "horizontal", "color": "#fb8c1e", "size": 7, "thickness": 1.2}, "encoding": {"x": {"field": "S", "type": "quantitative"}, "y": {"field": "lo", "type": "quantitative"}}},
     {"data": {"name": "finset"}, "mark": {"type": "tick", "orient": "horizontal", "color": "#fb8c1e", "size": 7, "thickness": 1.2}, "encoding": {"x": {"field": "S", "type": "quantitative"}, "y": {"field": "hi", "type": "quantitative"}}},
     {"data": {"name": "finset"}, "mark": {"type": "point", "shape": "circle", "filled": true, "opacity": 1, "color": "#fb8c1e", "size": 40}, "encoding": {"x": {"field": "S", "type": "quantitative"}, "y": {"field": "H", "type": "quantitative"}}},
     {"data": {"values": [{}]}, "mark": {"type": "text", "text": "D~40 nm", "align": "right", "fontSize": 8, "fontWeight": "bold", "color": "#222"}, "encoding": {"x": {"datum": 47.1}, "y": {"datum": 537}}},
     {"data": {"values": [{}]}, "mark": {"type": "text", "text": "D~25 nm", "align": "left", "fontSize": 8, "fontWeight": "bold", "color": "#222"}, "encoding": {"x": {"datum": 18.6}, "y": {"datum": 397}}},
     {"data": {"values": [{}]}, "mark": {"type": "text", "text": "D~18 nm", "align": "left", "fontSize": 8, "fontWeight": "bold", "color": "#222"}, "encoding": {"x": {"datum": 15.6}, "y": {"datum": 248.8}}},
     {"data": {"values": [{}]}, "mark": {"type": "text", "text": "D~12 nm", "align": "left", "fontSize": 8, "fontWeight": "bold", "color": "#222"}, "encoding": {"x": {"datum": 14.4}, "y": {"datum": 191}}}
    ]}
   ]}
 ], "spacing": 3}
]
}
